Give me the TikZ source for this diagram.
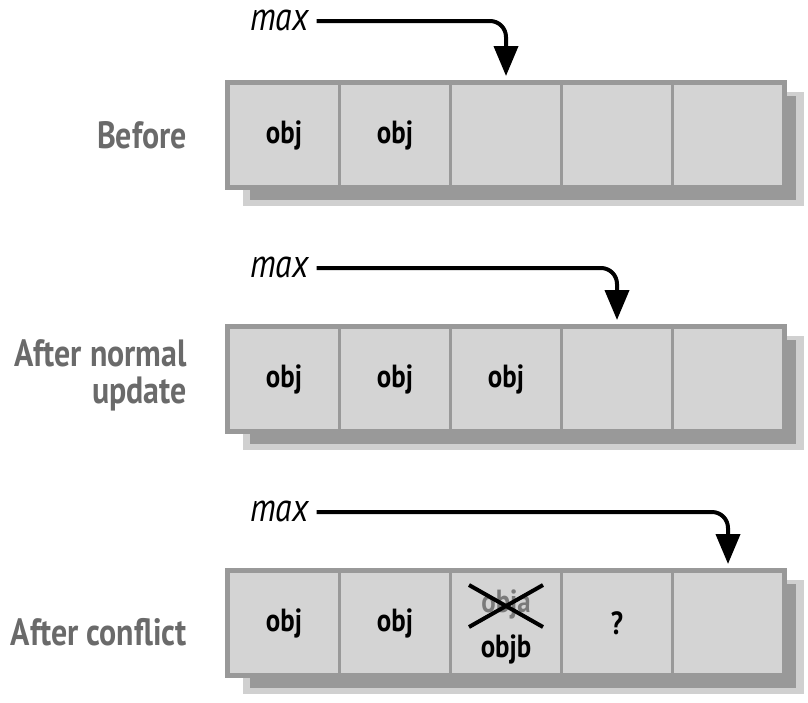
\documentclass[tikz,border=0pt]{standalone}
\usepackage{fontspec}
\setmainfont{PT Sans}[FakeStretch=0.84]
\usetikzlibrary{arrows.meta}
\definecolor{cellfill}{HTML}{D4D4D4}
\definecolor{cellline}{HTML}{999999}
\definecolor{shadowdark}{HTML}{999999}
\definecolor{shadowlight}{HTML}{D0D0D0}
\definecolor{labelgray}{HTML}{6A6A6A}
\definecolor{crossgray}{HTML}{7A7A7A}
\tikzset{
  cell/.style={draw=cellline, fill=cellfill, line width=3pt, minimum width=111pt, minimum height=103pt, inner sep=0pt, anchor=north west},
  celltext/.style={font=\fontsize{32}{34}\selectfont\bfseries, inner sep=0pt},
  rowlabel/.style={font=\fontsize{38}{40}\selectfont\bfseries, text=labelgray, anchor=base east, inner sep=0pt},
  maxlabel/.style={font=\fontsize{40}{42}\selectfont\itshape, anchor=base west, inner sep=0pt},
  ptr/.style={line width=4pt, rounded corners=16pt, -{Triangle[width=24pt,length=30pt]}},
  crossline/.style={line width=4pt}
}
\begin{document}
\begin{tikzpicture}[x=1pt,y=-1pt]
\useasboundingbox (0,0) rectangle (808,702);
% ---- shadows ----
\foreach \t in {82,326,570}{
  \fill[shadowlight] (243,\t+10) rectangle (804,\t+124);
  \fill[shadowdark] (250,\t+14) rectangle (796,\t+118);
}
% ---- row 1 ----
\foreach \i in {0,...,4}{
  \node[cell] (a\i) at (227+111*\i,82) {};
}
\node[celltext] (a0t) at (a0.center) {obj};
\node[celltext] (a1t) at (a1.center) {obj};
\draw[cellline, line width=4pt] (a0.north west) rectangle (a4.south east);
\node[rowlabel] (lb1) at (187,148) {Before};
\node[maxlabel] (m1) at (250,30) {max};
\draw[ptr] ([xshift=8pt,yshift=9pt]m1.base east) -| ([yshift=6pt]a2.north);
% ---- row 2 ----
\foreach \i in {0,...,4}{
  \node[cell] (b\i) at (227+111*\i,326) {};
}
\foreach \i in {0,1,2}{
  \node[celltext] (b\i t) at (b\i.center) {obj};
}
\draw[cellline, line width=4pt] (b0.north west) rectangle (b4.south east);
\node[rowlabel] (lb2a) at (187,366) {After normal};
\node[rowlabel] (lb2b) at (187,403) {update};
\node[maxlabel] (m2) at (250,277) {max};
\draw[ptr] ([xshift=8pt,yshift=9pt]m2.base east) -| ([yshift=6pt]b3.north);
% ---- row 3 ----
\foreach \i in {0,...,4}{
  \node[cell] (c\i) at (227+111*\i,570) {};
}
\node[celltext] (c0t) at (c0.center) {obj};
\node[celltext] (c1t) at (c1.center) {obj};
\node[celltext, text=crossgray] (obja) at ([yshift=19pt]c2.center) {obja};
\node[celltext] (objb) at ([yshift=-26pt]c2.center) {objb};
\coordinate (x1) at ([shift={(-37pt,38pt)}]c2.center);
\coordinate (x2) at ([shift={(37pt,-4pt)}]c2.center);
\coordinate (x3) at ([shift={(-37pt,-4pt)}]c2.center);
\coordinate (x4) at ([shift={(37pt,38pt)}]c2.center);
\draw[crossline] (x1) -- (x2);
\draw[crossline] (x3) -- (x4);
\node[celltext] (qm) at (c3.center) {?};
\draw[cellline, line width=4pt] (c0.north west) rectangle (c4.south east);
\node[rowlabel] (lb3) at (187,645) {After conflict};
\node[maxlabel] (m3) at (250,521) {max};
\draw[ptr] ([xshift=8pt,yshift=9pt]m3.base east) -| ([yshift=6pt]c4.north);
\end{tikzpicture}
\end{document}
